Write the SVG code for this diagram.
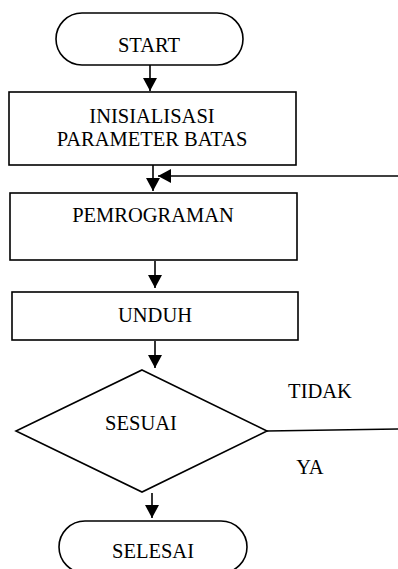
<svg xmlns="http://www.w3.org/2000/svg" width="398" height="569" viewBox="0 0 398 569">
<style>
.s{fill:#fff;stroke:#000;stroke-width:1.6}
.c{fill:none;stroke:#000;stroke-width:1.6}
text{font-family:"Liberation Serif","Times New Roman",serif;font-size:20.5px;fill:#000;text-anchor:middle}
</style>
<defs>
<marker id="ah" markerUnits="userSpaceOnUse" markerWidth="14" markerHeight="14" refX="13" refY="7" orient="auto">
<path d="M0,0 L13,7 L0,14 z" fill="#000"/>
</marker>
</defs>
<rect width="398" height="569" fill="#fff"/>
<g id="connectors">
<line class="c" x1="150" y1="65" x2="150" y2="91" marker-end="url(#ah)"/>
<line class="c" x1="153" y1="165" x2="153" y2="191" marker-end="url(#ah)"/>
<line class="c" x1="398" y1="176" x2="158" y2="176" marker-end="url(#ah)"/>
<line class="c" x1="155" y1="261" x2="155" y2="288" marker-end="url(#ah)"/>
<line class="c" x1="155" y1="341" x2="155" y2="368" marker-end="url(#ah)"/>
<line class="c" x1="267" y1="431" x2="398" y2="429"/>
<line class="c" x1="152" y1="493" x2="152" y2="518" marker-end="url(#ah)"/>
</g>
<g id="start">
<rect class="s" x="56" y="13" width="187" height="52" rx="26"/>
<text x="149" y="52">START</text>
</g>
<g id="init">
<rect class="s" x="9" y="92" width="287" height="73"/>
<text x="152" y="123">INISIALISASI</text>
<text x="152" y="146">PARAMETER BATAS</text>
</g>
<g id="pemrograman">
<rect class="s" x="10" y="193" width="287" height="67"/>
<text x="153" y="222">PEMROGRAMAN</text>
</g>
<g id="unduh">
<rect class="s" x="12" y="292" width="286" height="48"/>
<text x="155" y="322">UNDUH</text>
</g>
<g id="sesuai">
<polygon class="s" points="142,370 267,431 142,492 16,431"/>
<text x="141" y="430">SESUAI</text>
</g>
<g id="labels">
<text x="320" y="398">TIDAK</text>
<text x="310" y="474">YA</text>
</g>
<g id="selesai">
<rect class="s" x="59" y="521" width="188" height="52" rx="26"/>
<text x="153" y="558">SELESAI</text>
</g>
</svg>
